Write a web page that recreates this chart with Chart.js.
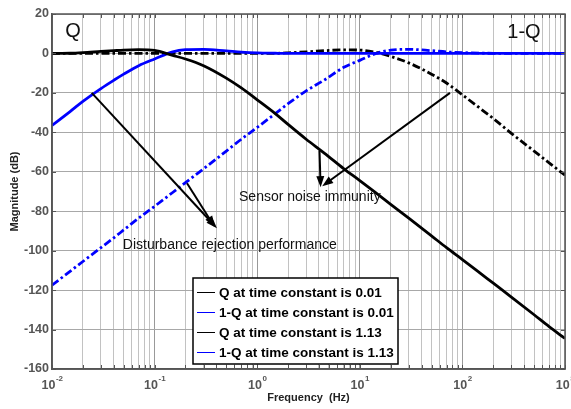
<!DOCTYPE html>
<html>
<head>
<meta charset="utf-8">
<title>Q and 1-Q magnitude response</title>
<script src="https://cdn.jsdelivr.net/npm/chart.js"></script>
<style>
  html, body { margin: 0; padding: 0; background: #fff; }
</style>
</head>
<body>
<canvas id="bodeChart" width="571" height="409"></canvas>
<script>
// values (Hz / dB)
const freqHz = [0.01, 0.015, 0.02, 0.03, 0.04, 0.05, 0.07, 0.1, 0.15, 0.2, 0.3, 0.5, 0.7, 1, 1.5, 2,
    3, 4.5, 7, 10, 15, 20, 30, 50, 70, 100, 150, 200, 300, 500, 700, 1000];

const qFast = [0, 0.1, 0.4, 1.0, 1.4, 1.7, 1.9, 1.5, -1.0, -2.8, -6.2, -12.5, -17.5, -23.5, -30.5, -36,
    -43.5, -50.5, -58.5, -64.5, -71.5, -76.5, -83.5, -92.5, -98.5, -104.5, -111.5, -116.5, -123.5, -132.5, -138.5, -144.5];

const oneMinusQFast = [-36.5, -29.5, -24.3, -17.8, -13.6, -10.5, -6.2, -2.8, 0.8, 1.9, 2.1, 1.3, 0.7, 0.3, 0.1, 0,
    0, 0, 0, 0, 0, 0, 0, 0, 0, 0, 0, 0, 0, 0, 0, 0];

const qSlow = [0, 0, 0, 0, 0, 0, 0, 0, 0, 0, 0, 0, 0, 0, 0.05, 0.3,
    0.8, 1.4, 1.8, 1.7, 0.3, -1.5, -4.8, -10.5, -15, -21, -28, -33, -40.5, -49.5, -55.5, -61.7];

const oneMinusQSlow = [-117.5, -110.5, -105.5, -98.5, -93.5, -89.5, -83.5, -77.5, -70.5, -65.5, -58.5, -49.5, -43.5, -37.5, -30.5, -25.5,
    -19, -13.5, -7, -3.5, 0.3, 1.7, 2.1, 1.4, 0.8, 0.4, 0.15, 0.05, 0, 0, 0, 0];

const seriesLabels = [
    'Q at time constant is 0.01',
    '1-Q at time constant is 0.01',
    'Q at time constant is 1.13',
    '1-Q at time constant is 1.13'
];

const decadeExponents = [-2, -1, 0, 1, 2, 3];
const yMin = -160;
const yMax = 20;
const yStep = 20;

// annotations, in data coordinates
const arrowStart = [[0.0244, -20], [0.207, -65.8], [4.05, -49.4], [75.7, -20]];
const arrowEnd = [[0.405, -88.6], [0.385, -88.0], [4.15, -67.8], [4.3, -67.3]];
const noteText = ['Q', '1-Q', 'Sensor noise immunity', 'Disturbance rejection performance'];
const notePos = [[0.016, 10.9], [398, 10.4], [0.665, -73.1], [0.049, -97.3]];

function toPoints(values) {
    return freqHz.map((f, i) => ({ x: f, y: values[i] }));
}

function isDecade(v) {
    const l = Math.log10(v);
    return Math.abs(l - Math.round(l)) < 1e-6;
}

// 1..9 x 10^n grid positions
const gridFreqs = [];
decadeExponents.forEach((e, i) => {
    if (i === decadeExponents.length - 1) {
        gridFreqs.push(Math.pow(10, e));
        return;
    }
    for (let m = 1; m <= 9; m++) {
        gridFreqs.push(parseFloat((m * Math.pow(10, e)).toPrecision(6)));
    }
});

const decorPlugin = {
    id: 'bodeDecor',
    afterDatasetsDraw(chart) {
        const ctx = chart.ctx;
        const xs = chart.scales.x;
        const ys = chart.scales.y;
        const area = chart.chartArea;

        ctx.save();

        // box + inward tick marks
        ctx.strokeStyle = '#555';
        ctx.lineWidth = 1.5;
        ctx.strokeRect(area.left, area.top, area.right - area.left, area.bottom - area.top);
        ctx.lineWidth = 1;
        ctx.beginPath();
        gridFreqs.forEach(f => {
            const px = Math.round(xs.getPixelForValue(f)) + 0.5;
            ctx.moveTo(px, area.bottom);
            ctx.lineTo(px, area.bottom - 4);
            ctx.moveTo(px, area.top);
            ctx.lineTo(px, area.top + 4);
        });
        for (let v = yMin; v <= yMax; v += yStep) {
            const py = Math.round(ys.getPixelForValue(v)) + 0.5;
            ctx.moveTo(area.left, py);
            ctx.lineTo(area.left + 4, py);
            ctx.moveTo(area.right, py);
            ctx.lineTo(area.right - 4, py);
        }
        ctx.stroke();

        // decade labels 10^n
        ctx.fillStyle = '#555';
        ctx.textBaseline = 'alphabetic';
        ctx.textAlign = 'left';
        decadeExponents.forEach(e => {
            const px = xs.getPixelForValue(Math.pow(10, e));
            ctx.font = 'bold 12.5px "Liberation Sans", Arial, sans-serif';
            const baseW = ctx.measureText('10').width;
            ctx.font = 'bold 8px "Liberation Sans", Arial, sans-serif';
            const expW = ctx.measureText(String(e)).width;
            const x0 = px - (baseW + expW) / 2;
            ctx.font = 'bold 12.5px "Liberation Sans", Arial, sans-serif';
            ctx.fillText('10', x0, area.bottom + 20);
            ctx.font = 'bold 8px "Liberation Sans", Arial, sans-serif';
            ctx.fillText(String(e), x0 + baseW + 0.5, area.bottom + 12);
        });

        // arrows
        ctx.strokeStyle = '#000';
        ctx.fillStyle = '#000';
        ctx.lineWidth = 2;
        arrowStart.forEach((s, i) => {
            const x1 = xs.getPixelForValue(s[0]);
            const y1 = ys.getPixelForValue(s[1]);
            const x2 = xs.getPixelForValue(arrowEnd[i][0]);
            const y2 = ys.getPixelForValue(arrowEnd[i][1]);
            const ang = Math.atan2(y2 - y1, x2 - x1);
            const headLen = 11;
            const headW = 4;
            ctx.beginPath();
            ctx.moveTo(x1, y1);
            ctx.lineTo(x2 - Math.cos(ang) * headLen * 0.8, y2 - Math.sin(ang) * headLen * 0.8);
            ctx.stroke();
            ctx.beginPath();
            ctx.moveTo(x2, y2);
            ctx.lineTo(x2 - Math.cos(ang) * headLen - Math.sin(ang) * headW,
                       y2 - Math.sin(ang) * headLen + Math.cos(ang) * headW);
            ctx.lineTo(x2 - Math.cos(ang) * headLen + Math.sin(ang) * headW,
                       y2 - Math.sin(ang) * headLen - Math.cos(ang) * headW);
            ctx.closePath();
            ctx.fill();
        });

        // text notes
        ctx.fillStyle = '#111';
        ctx.textBaseline = 'middle';
        noteText.forEach((t, i) => {
            const px = xs.getPixelForValue(notePos[i][0]);
            const py = ys.getPixelForValue(notePos[i][1]);
            if (i < 2) {
                ctx.font = '20px "Liberation Sans", Arial, sans-serif';
                ctx.textAlign = 'center';
            } else {
                ctx.font = '14px "Liberation Sans", Arial, sans-serif';
                ctx.textAlign = 'left';
            }
            ctx.fillText(t, px, py);
        });

        // legend box
        const boxL = area.left + 141;
        const boxT = area.bottom - 91;
        const boxW = 205;
        const boxH = 86;
        ctx.fillStyle = '#fff';
        ctx.fillRect(boxL, boxT, boxW, boxH);
        ctx.strokeStyle = '#000';
        ctx.lineWidth = 1.5;
        ctx.strokeRect(boxL, boxT, boxW, boxH);
        ctx.font = 'bold 13.5px "Liberation Sans", Arial, sans-serif';
        ctx.textAlign = 'left';
        ctx.textBaseline = 'middle';
        chart.data.datasets.forEach((ds, i) => {
            const ry = Math.round(boxT + 14 + i * 20) + 0.5;
            ctx.strokeStyle = ds.borderColor;
            ctx.lineWidth = 1;
            ctx.beginPath();
            ctx.moveTo(boxL + 4, ry);
            ctx.lineTo(boxL + 22, ry);
            ctx.stroke();
            ctx.fillStyle = '#000';
            ctx.fillText(ds.label, boxL + 26, ry + 1);
        });

        ctx.restore();
    }
};

const dashDot = [8, 3, 2.5, 3];

new Chart(document.getElementById('bodeChart'), {
    type: 'line',
    data: {
        datasets: [
            { label: seriesLabels[0], data: toPoints(qFast), borderColor: '#000000', borderWidth: 2.8 },
            { label: seriesLabels[1], data: toPoints(oneMinusQFast), borderColor: '#0000ff', borderWidth: 2.8 },
            { label: seriesLabels[2], data: toPoints(qSlow), borderColor: '#000000', borderWidth: 2.8, borderDash: dashDot },
            { label: seriesLabels[3], data: toPoints(oneMinusQSlow), borderColor: '#0000ff', borderWidth: 2.8, borderDash: dashDot }
        ]
    },
    options: {
        responsive: false,
        animation: false,
        devicePixelRatio: 1,
        layout: { padding: { top: 14, right: 6, left: 0, bottom: 0 } },
        elements: {
            point: { radius: 0 },
            line: { fill: false, cubicInterpolationMode: 'monotone' }
        },
        plugins: {
            legend: { display: false },
            tooltip: { enabled: false }
        },
        scales: {
            x: {
                type: 'logarithmic',
                min: Math.pow(10, decadeExponents[0]),
                max: Math.pow(10, decadeExponents[decadeExponents.length - 1]),
                afterBuildTicks: scale => {
                    scale.ticks = gridFreqs.map(v => ({ value: v, major: isDecade(v) }));
                },
                afterFit: scale => { scale.height = 40; },
                ticks: { display: false },
                grid: {
                    drawTicks: false,
                    color: c => (c.tick && isDecade(c.tick.value)) ? '#999999' : '#c2c2c2'
                },
                border: { color: '#555', width: 1.5 },
                title: {
                    display: true,
                    text: 'Frequency  (Hz)',
                    color: '#222',
                    font: { family: '"Liberation Sans", Arial, sans-serif', size: 11, weight: 'bold' },
                    padding: { top: 0, bottom: 4 }
                }
            },
            y: {
                min: yMin,
                max: yMax,
                afterFit: scale => { scale.width = 52; },
                ticks: {
                    stepSize: yStep,
                    padding: 3,
                    color: '#555',
                    font: { family: '"Liberation Sans", Arial, sans-serif', size: 12.5, weight: 'bold' }
                },
                grid: { drawTicks: false, color: '#a8a8a8' },
                border: { color: '#555', width: 1.5 },
                title: {
                    display: true,
                    text: 'Magnitude (dB)',
                    color: '#222',
                    font: { family: '"Liberation Sans", Arial, sans-serif', size: 11, weight: 'bold' },
                    padding: { top: 8, bottom: 0 }
                }
            }
        }
    },
    plugins: [decorPlugin]
});
</script>
</body>
</html>
